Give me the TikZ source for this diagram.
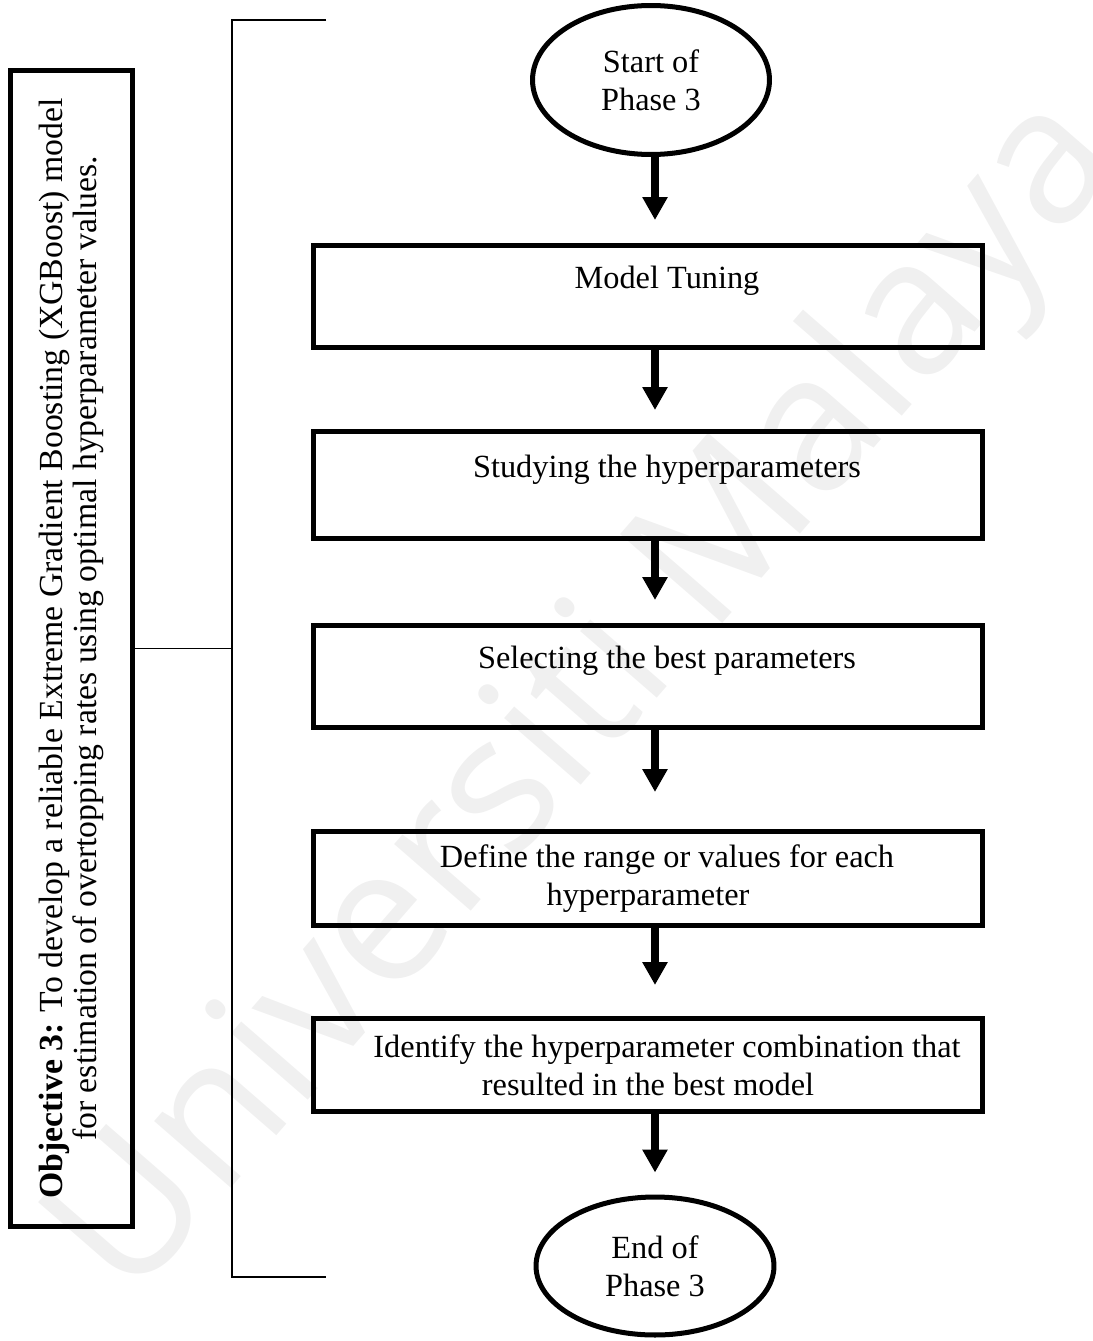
\documentclass[tikz,border=0pt]{standalone}
\usepackage{fontspec}
\setmainfont{Liberation Serif}
\newfontfamily\wmfont{Open Sans}
\usetikzlibrary{shapes.geometric, arrows.meta}
\newcommand{\lead}{\hspace*{0.76cm}}

\begin{document}
\begin{tikzpicture}[x=0.02cm, y=-0.02cm, font=\fontsize{18.4}{21.6}\selectfont, align=center,
  box/.style={rectangle, draw, line width=2.85pt, minimum width=13.38cm, inner sep=0pt},
  terminal/.style={ellipse, draw, line width=2.85pt, inner sep=0pt},
  flow/.style={-{Triangle[width=0.48cm,length=0.46cm]}, line width=4pt},
  bracket/.style={line width=1.1pt},
  watermark/.style={text=black!6, font=\wmfont\fontsize{108}{108}\selectfont, rotate=49}]
\useasboundingbox (0,0) rectangle (1092,1341);
\node[watermark] at (590,700) (wm) {Universiti Malaya};
\node[draw, line width=2.85pt, rotate=90, minimum width=23.12cm, minimum height=2.44cm, inner sep=0pt,
  font=\fontsize{19.2}{19}\selectfont] at (71.5,648.5) (obj)
  {\textbf{Objective 3:} To develop a reliable Extreme Gradient Boosting (XGBoost) model\\for estimation of overtopping rates using optimal hyperparameter values.};
\node[terminal, minimum width=4.74cm, minimum height=2.98cm] at (651,80) (start) {Start of\\Phase 3};
\node[box, minimum height=2.04cm] at (648,296.5) (m1) {\lead Model Tuning\\\mbox{}};
\node[box, minimum height=2.14cm] at (648,485) (m2) {\lead Studying the hyperparameters\\\mbox{}};
\node[box, minimum height=2.04cm] at (648,676.5) (m3) {\lead Selecting the best parameters\\\mbox{}};
\node[box, minimum height=1.88cm] at (648,878.5) (m4) {\lead Define the range or values for each\\hyperparameter};
\node[box, minimum height=1.86cm] at (648,1065) (m5) {\lead Identify the hyperparameter combination that\\resulted in the best model};
\node[terminal, minimum width=4.76cm, minimum height=2.76cm] at (655,1266) (end) {End of\\Phase 3};
\coordinate (brtop) at (326,20);
\coordinate (brmid) at (232,648.5);
\coordinate (brbot) at (326,1277);
\draw[bracket] (brtop) -| (brmid) |- (brbot);
\draw[bracket] (obj.south) -- (brmid);
\draw[flow, shorten >=0.46cm] (start.south -| end) -- (m1.north -| end);
\draw[flow, shorten >=0.38cm] (m1.south -| end) -- (m2.north -| end);
\draw[flow, shorten >=0.46cm] (m2.south -| end) -- (m3.north -| end);
\draw[flow, shorten >=0.74cm] (m3.south -| end) -- (m4.north -| end);
\draw[flow, shorten >=0.62cm] (m4.south -| end) -- (m5.north -| end);
\draw[flow, shorten >=0.44cm] (m5.south -| end) -- (end);
\end{tikzpicture}
\end{document}
